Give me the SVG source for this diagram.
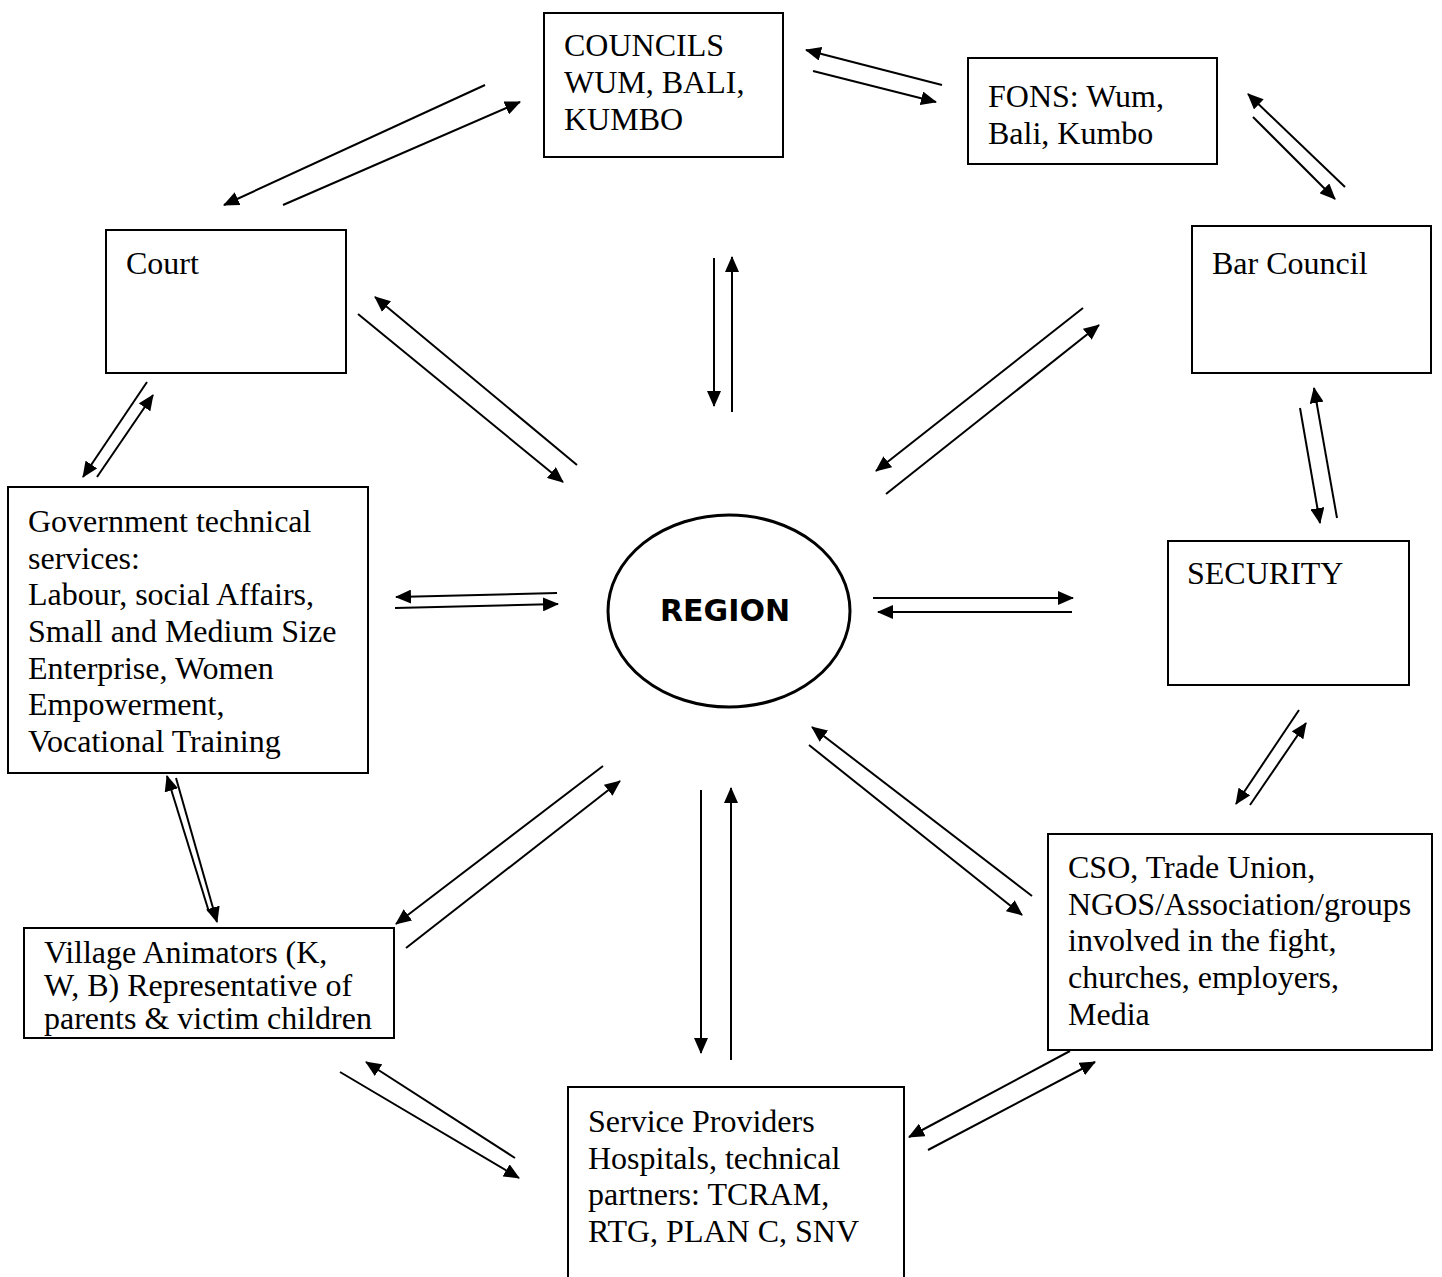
<svg xmlns="http://www.w3.org/2000/svg" width="1442" height="1277" viewBox="0 0 1442 1277">
<defs>
<marker id="ah" markerWidth="16" markerHeight="14" refX="15" refY="7" orient="auto" markerUnits="userSpaceOnUse"><path d="M0,0 L16,7 L0,14 z" fill="#000"/></marker>
<style>
.box{fill:#fff;stroke:#000;stroke-width:2}
.t{font-family:"Liberation Serif","Times New Roman",serif;font-size:32px;fill:#000}
.c line{stroke:#000;stroke-width:2;marker-end:url(#ah)}
.reg{font-family:"DejaVu Sans",sans-serif;font-weight:bold;font-size:30px;fill:#000}
</style>
</defs>
<rect width="1442" height="1277" fill="#fff"/>
<g class="c" id="connectors">
<line x1="485" y1="85" x2="224" y2="205"/>
<line x1="283" y1="205" x2="520" y2="102"/>
<line x1="942" y1="85" x2="806" y2="50"/>
<line x1="813" y1="71" x2="936" y2="102"/>
<line x1="1345" y1="187" x2="1248" y2="94"/>
<line x1="1253" y1="117" x2="1335" y2="199"/>
<line x1="714" y1="258" x2="714" y2="406"/>
<line x1="732" y1="412" x2="732" y2="257"/>
<line x1="577" y1="465" x2="375" y2="297"/>
<line x1="358" y1="314" x2="563" y2="482"/>
<line x1="1083" y1="308" x2="876" y2="471"/>
<line x1="886" y1="494" x2="1099" y2="325"/>
<line x1="147" y1="382" x2="83" y2="477"/>
<line x1="97" y1="477" x2="153" y2="395"/>
<line x1="557" y1="593" x2="396" y2="597"/>
<line x1="395" y1="608" x2="558" y2="604"/>
<line x1="873" y1="598" x2="1073" y2="598"/>
<line x1="1072" y1="612" x2="878" y2="612"/>
<line x1="1337" y1="518" x2="1314" y2="388"/>
<line x1="1300" y1="408" x2="1320" y2="523"/>
<line x1="1299" y1="710" x2="1236" y2="804"/>
<line x1="1250" y1="805" x2="1306" y2="723"/>
<line x1="209" y1="912" x2="167" y2="776"/>
<line x1="176" y1="778" x2="217" y2="922"/>
<line x1="603" y1="766" x2="396" y2="924"/>
<line x1="406" y1="948" x2="620" y2="781"/>
<line x1="701" y1="790" x2="701" y2="1053"/>
<line x1="731" y1="1060" x2="731" y2="788"/>
<line x1="1032" y1="896" x2="812" y2="727"/>
<line x1="809" y1="745" x2="1022" y2="915"/>
<line x1="340" y1="1072" x2="519" y2="1178"/>
<line x1="515" y1="1158" x2="366" y2="1062"/>
<line x1="928" y1="1150" x2="1095" y2="1062"/>
<line x1="1070" y1="1051" x2="909" y2="1137"/>
</g>
<g id="councils">
<rect class="box" x="544" y="13" width="239" height="144"/>
<text class="t"><tspan x="564" y="56">COUNCILS</tspan><tspan x="564" y="93">WUM, BALI,</tspan><tspan x="564" y="130">KUMBO</tspan></text>
</g>
<g id="fons">
<rect class="box" x="968" y="58" width="249" height="106"/>
<text class="t"><tspan x="988" y="107">FONS: Wum,</tspan><tspan x="988" y="144">Bali, Kumbo</tspan></text>
</g>
<g id="court">
<rect class="box" x="106" y="230" width="240" height="143"/>
<text class="t" x="126" y="274">Court</text>
</g>
<g id="bar">
<rect class="box" x="1192" y="226" width="239" height="147"/>
<text class="t" x="1212" y="274">Bar Council</text>
</g>
<g id="gov">
<rect class="box" x="8" y="487" width="360" height="286"/>
<text class="t"><tspan x="28" y="532">Government technical</tspan><tspan x="28" y="569">services:</tspan><tspan x="28" y="605">Labour, social Affairs,</tspan><tspan x="28" y="642">Small and Medium Size</tspan><tspan x="28" y="679">Enterprise, Women</tspan><tspan x="28" y="715">Empowerment,</tspan><tspan x="28" y="752">Vocational Training</tspan></text>
</g>
<g id="region">
<ellipse cx="729" cy="611" rx="121" ry="96" fill="#fff" stroke="#000" stroke-width="3"/>
<text class="reg" x="725" y="621" text-anchor="middle">REGION</text>
</g>
<g id="security">
<rect class="box" x="1168" y="541" width="241" height="144"/>
<text class="t" x="1187" y="584">SECURITY</text>
</g>
<g id="village">
<rect class="box" x="24" y="928" width="370" height="110"/>
<text class="t"><tspan x="44" y="963">Village Animators (K,</tspan><tspan x="44" y="996">W, B) Representative of</tspan><tspan x="44" y="1029">parents &amp; victim children</tspan></text>
</g>
<g id="cso">
<rect class="box" x="1048" y="834" width="384" height="216"/>
<text class="t"><tspan x="1068" y="878">CSO, Trade Union,</tspan><tspan x="1068" y="915">NGOS/Association/groups</tspan><tspan x="1068" y="951">involved in the fight,</tspan><tspan x="1068" y="988">churches, employers,</tspan><tspan x="1068" y="1025">Media</tspan></text>
</g>
<g id="service">
<path class="box" d="M568,1277 V1087 H904 V1277"/>
<text class="t"><tspan x="588" y="1132">Service Providers</tspan><tspan x="588" y="1169">Hospitals, technical</tspan><tspan x="588" y="1205">partners: TCRAM,</tspan><tspan x="588" y="1242">RTG, PLAN C, SNV</tspan></text>
</g>
</svg>
